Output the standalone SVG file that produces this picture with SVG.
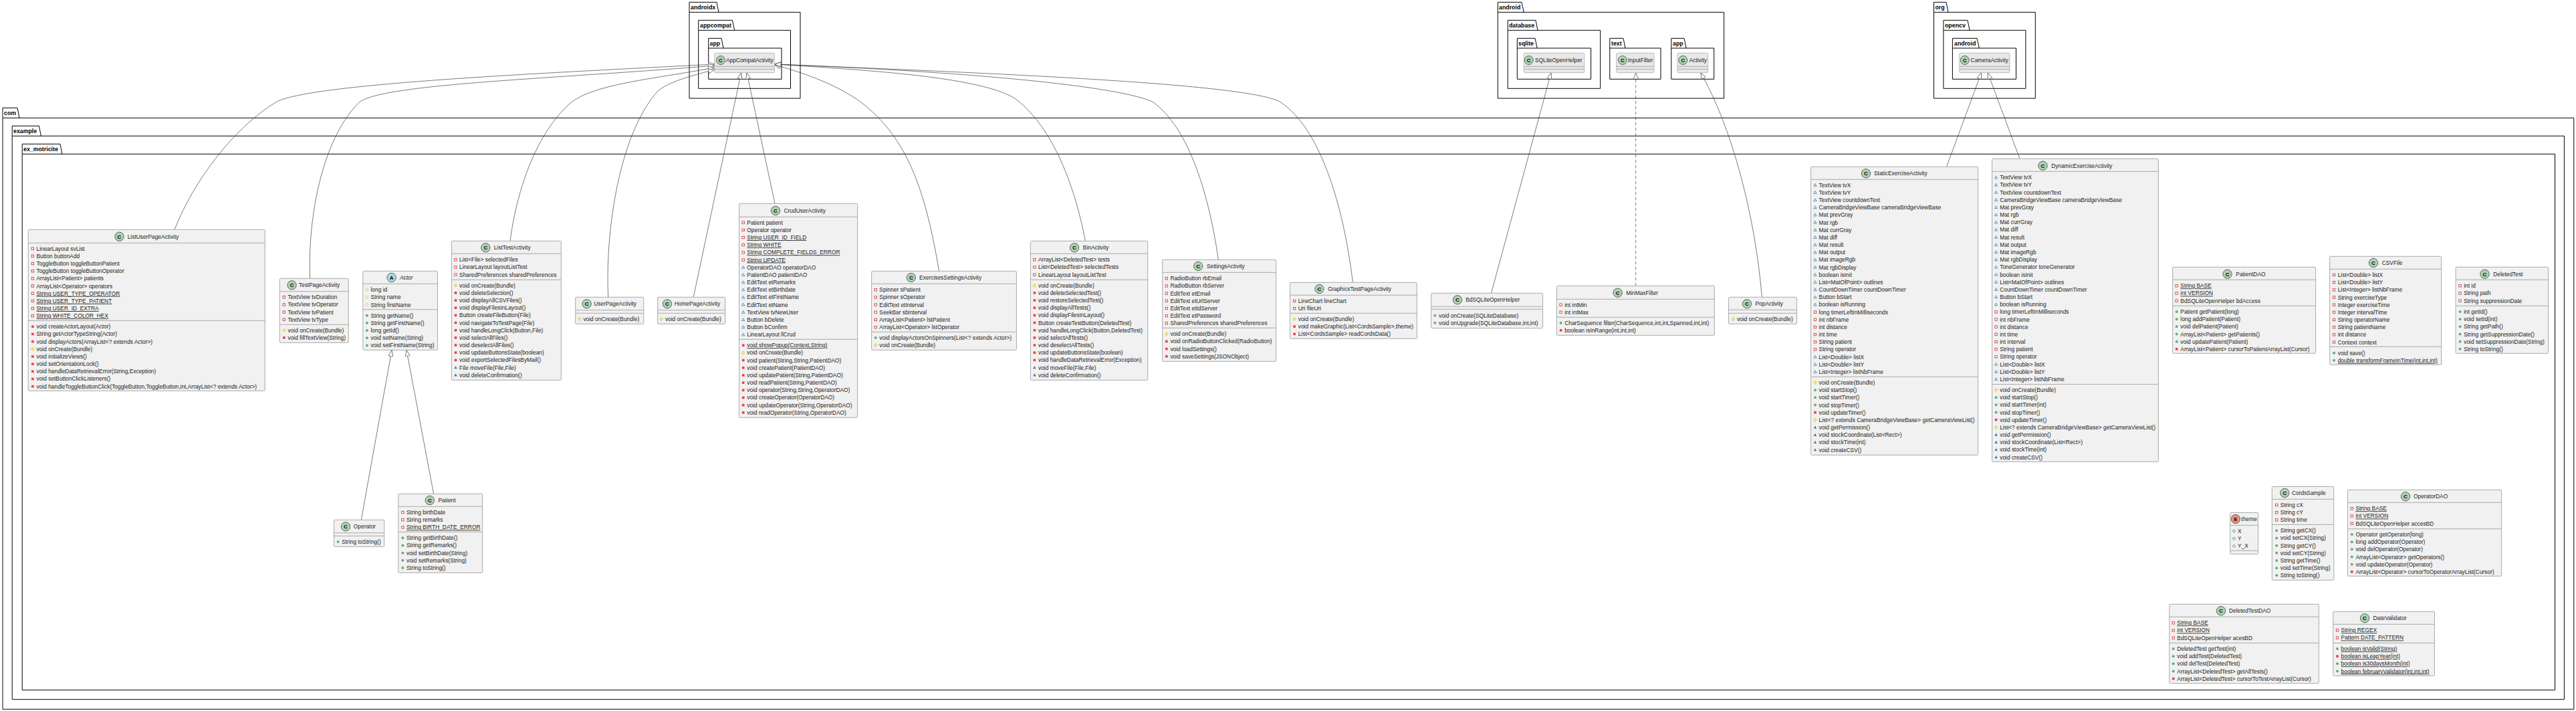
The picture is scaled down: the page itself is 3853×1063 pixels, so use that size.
<svg xmlns="http://www.w3.org/2000/svg" width="3853" height="1063" viewBox="0 0 3853 1063">
<style>
text{font-family:"Liberation Sans",Arial,sans-serif;font-size:8.4px;fill:#222}
.p{font-weight:bold;font-size:8.8px;fill:#000}
.k{fill:none;stroke:#000;stroke-width:1}
.b{fill:#F1F1F1;stroke:#ABABAB;stroke-width:1}
.e{fill:#E8E8E8;stroke:#BBB;stroke-width:1}
.s{fill:none;stroke:#ABABAB;stroke-width:1}
.c{fill:#ADD1B2;stroke:#333;stroke-width:.7}
.ca{fill:#A9DCDF;stroke:#333;stroke-width:.7}
.ce{fill:#EB937F;stroke:#333;stroke-width:.7}
.i{font-weight:bold;font-size:8px;text-anchor:middle;fill:#000}
.u{text-decoration:underline}
.it{font-style:italic}
#connectors path{fill:none;stroke:#333;stroke-width:.65;marker-end:url(#ext)}
#connectors .d{stroke-dasharray:4.5 3.5}
</style>
<defs>
<marker id="ext" markerUnits="userSpaceOnUse" markerWidth="11" markerHeight="9" refX="9.7" refY="4" orient="auto"><path d="M.2,.5 L9.7,4 L.2,7.5 Z" fill="#fff" stroke="#333" stroke-width=".65"/></marker>
<rect id="v" x="-7.3" y="-4.7" width="3.4" height="3.4" fill="#fff" stroke="#C82930" stroke-width=".8"/>
<rect id="vm" x="-7.4" y="-4.8" width="3.6" height="3.6" fill="#EE3F50"/>
<path id="a" d="M-5.6,-5.2 L-3.6,-1.4 L-7.6,-1.4 Z" fill="#fff" stroke="#1963A0" stroke-width=".7"/>
<path id="am" d="M-5.6,-5.4 L-3.4,-1.3 L-7.8,-1.3 Z" fill="#3E75AE"/>
<circle id="g" cx="-5.6" cy="-3" r="1.8" fill="#fff" stroke="#038048" stroke-width=".7"/>
<circle id="gm" cx="-5.6" cy="-3" r="2" fill="#5FAF80"/>
<path id="o" d="M-5.6,-5.4 L-3.6,-3 L-5.6,-.6 L-7.6,-3 Z" fill="#fff" stroke="#C9A13A" stroke-width=".7"/>
<path id="om" d="M-5.6,-5.6 L-3.4,-3 L-5.6,-.4 L-7.8,-3 Z" fill="#FFF04A" stroke="#B8A030" stroke-width=".5"/>
</defs>

<g id="packages">
<path class="k" d="M1031,18.3 V3.3 H1072 L1075,18.3 M1031,18.3 H1197 V147 H1031 Z"/><text class="p" x="1033" y="14">androidx</text>
<path class="k" d="M1044.7,45.3 V30.3 H1095.5 L1098.7,45.3 M1044.7,45.3 H1182.5 V132.3 H1044.7 Z"/><text class="p" x="1047" y="41">appcompat</text>
<path class="k" d="M1059.7,72 V57.3 H1079 L1082,72 M1059.7,72 H1169 V118.3 H1059.7 Z"/><text class="p" x="1061.5" y="68">app</text>
<path class="k" d="M2240.3,18.3 V3.3 H2276 L2279.3,18.3 M2240.3,18.3 H2578.6 V147 H2240.3 Z"/><text class="p" x="2242" y="14">android</text>
<path class="k" d="M2255.2,45.3 V30.3 H2297 L2300,45.3 M2255.2,45.3 H2393.7 V132.3 H2255.2 Z"/><text class="p" x="2257" y="41">database</text>
<path class="k" d="M2269.3,72 V57.3 H2296 L2299.2,72 M2269.3,72 H2379.6 V118.3 H2269.3 Z"/><text class="p" x="2271" y="68">sqlite</text>
<path class="k" d="M2407.8,72 V57.3 H2428 L2431,72 M2407.8,72 H2484 V118.3 H2407.8 Z"/><text class="p" x="2410" y="68">text</text>
<path class="k" d="M2499.8,72 V57.3 H2519 L2522.2,72 M2499.8,72 H2563.7 V118.3 H2499.8 Z"/><text class="p" x="2502" y="68">app</text>
<path class="k" d="M2892.5,18.3 V3.3 H2911 L2914,18.3 M2892.5,18.3 H3044.3 V147 H2892.5 Z"/><text class="p" x="2894.5" y="14">org</text>
<path class="k" d="M2906.9,45.3 V30.3 H2943 L2946,45.3 M2906.9,45.3 H3029.9 V132.3 H2906.9 Z"/><text class="p" x="2909" y="41">opencv</text>
<path class="k" d="M2920.4,72 V57.3 H2957 L2960.4,72 M2920.4,72 H3015.5 V118.3 H2920.4 Z"/><text class="p" x="2923" y="68">android</text>
<path class="k" d="M4,176.3 V161.3 H26 L29,176.3 M4,176.3 H3849.8 V1060.3 H4 Z"/><text class="p" x="6" y="172">com</text>
<path class="k" d="M18.2,203.3 V188.3 H58.4 L61.4,203.3 M18.2,203.3 H3835.4 V1045.7 H18.2 Z"/><text class="p" x="20" y="199">example</text>
<path class="k" d="M33.2,230.3 V215.3 H90 L92.9,230.3 M33.2,230.3 H3821.5 V1031.7 H33.2 Z"/><text class="p" x="35" y="226">ex_motricite</text>
</g>

<g id="connectors">
<path d="M261,343.3 C290,270 350,190 414.6,151.7 C470,125 800,110 1068.8,96"/>
<path d="M463.7,416.3 C460,330 480,210 537,153.3 C570,125 830,118 1068.8,98"/>
<path d="M763,360.3 C772,290 800,200 854,153.3 C890,125 980,118 1068.8,101"/>
<path d="M909.7,444.3 C905,350 925,200 985,135 C1005,120 1040,112 1068.8,104"/>
<path d="M1037.2,444.3 L1108.6,108.7"/>
<path d="M1159,304.3 L1117,108.7"/>
<path d="M1404.6,405.3 C1385,290 1360,215 1300,163 C1270,135 1215,112 1158.4,97"/>
<path d="M1623.4,360.3 C1610,290 1580,195 1519.7,148.3 C1470,115 1300,105 1158.4,96"/>
<path d="M1822.3,388.3 C1810,300 1780,190 1723,151.7 C1660,125 1400,105 1158.4,96"/>
<path d="M2023.4,422.3 C2010,310 1975,190 1913.6,151.7 C1860,125 1500,110 1158.4,96"/>
<path d="M2230.5,438.3 L2320,108.7"/>
<path class="d" d="M2446.7,427.3 L2446.7,108.7"/>
<path d="M2635.4,444.3 C2625,320 2590,190 2543.8,108.7"/>
<path d="M2911.6,249.3 L2963.6,108.7"/>
<path d="M3021,237.3 L2973.2,108.7"/>
<path d="M540.3,777.3 L586,523.3"/>
<path d="M648.6,738.3 L608,523.3"/>
</g>

<g id="AppCompatActivity"><rect class="e" x="1068.8" y="79.3" width="89.6" height="29.4" rx="1.5"/><path class="s" d="M1068.8,99.3 H1158.4 M1068.8,103.3 H1158.4"/><circle class="c" cx="1078" cy="90" r="6.5"/><text class="i" x="1078" y="93">C</text><text x="1086" y="92.8">AppCompatActivity</text></g>
<g id="SQLiteOpenHelper"><rect class="e" x="2279.3" y="79.3" width="90.4" height="29.4" rx="1.5"/><path class="s" d="M2279.3,99.3 H2369.7 M2279.3,103.3 H2369.7"/><circle class="c" cx="2286.7" cy="90" r="6.5"/><text class="i" x="2286.7" y="93">C</text><text x="2295.9" y="92.8">SQLiteOpenHelper</text></g>
<g id="InputFilter"><rect class="e" x="2417.8" y="79.3" width="56.2" height="29.4" rx="1.5"/><path class="s" d="M2417.8,99.3 H2474 M2417.8,103.3 H2474"/><circle class="c" cx="2426.9" cy="90" r="6.5"/><text class="i" x="2426.9" y="93">C</text><text x="2435" y="92.8">InputFilter</text></g>
<g id="Activity"><rect class="e" x="2509" y="79.3" width="45.6" height="29.4" rx="1.5"/><path class="s" d="M2509,99.3 H2554.6 M2509,103.3 H2554.6"/><circle class="c" cx="2517.3" cy="90" r="6.5"/><text class="i" x="2517.3" y="93">C</text><text x="2526.4" y="92.8">Activity</text></g>
<g id="CameraActivity"><rect class="e" x="2930.8" y="79.3" width="75.2" height="29.4" rx="1.5"/><path class="s" d="M2930.8,99.3 H3006 M2930.8,103.3 H3006"/><circle class="c" cx="2938.8" cy="90" r="6.5"/><text class="i" x="2938.8" y="93">C</text><text x="2947.6" y="92.8">CameraActivity</text></g>

<g id="ListUserPageActivity"><rect class="b" x="42.2" y="343.3" width="354.1" height="241" rx="1.5"/><path class="s" d="M42.2,363.3 H396.3 M42.2,479.3 H396.3"/><circle class="c" cx="178.5" cy="353.7" r="6.7"/><text class="i" x="178.5" y="356.7">C</text><text x="190.7" y="356.7">ListUserPageActivity</text>
<g transform="translate(54.5,374.7)">
<use href="#v"/><text>LinearLayout svList</text>
<use href="#v" y="11.17"/><text y="11.17">Button buttonAdd</text>
<use href="#v" y="22.34"/><text y="22.34">ToggleButton toggleButtonPatient</text>
<use href="#v" y="33.51"/><text y="33.51">ToggleButton toggleButtonOperator</text>
<use href="#v" y="44.68"/><text y="44.68">ArrayList&lt;Patient&gt; patients</text>
<use href="#v" y="55.85"/><text y="55.85">ArrayList&lt;Operator&gt; operators</text>
<use href="#v" y="67.02"/><text class="u" y="67.02">String USER_TYPE_OPERATOR</text>
<use href="#v" y="78.19"/><text class="u" y="78.19">String USER_TYPE_PATIENT</text>
<use href="#v" y="89.36"/><text class="u" y="89.36">String USER_ID_EXTRA</text>
<use href="#v" y="100.53"/><text class="u" y="100.53">String WHITE_COLOR_HEX</text>
</g><g transform="translate(54.5,491.3)">
<use href="#vm"/><text>void createActorLayout(Actor)</text>
<use href="#vm" y="11.17"/><text y="11.17">String getActorTypeString(Actor)</text>
<use href="#vm" y="22.34"/><text y="22.34">void displayActors(ArrayList&lt;? extends Actor&gt;)</text>
<use href="#om" y="33.51"/><text y="33.51">void onCreate(Bundle)</text>
<use href="#vm" y="44.68"/><text y="44.68">void initializeViews()</text>
<use href="#vm" y="55.85"/><text y="55.85">void setOrientationLock()</text>
<use href="#vm" y="67.02"/><text y="67.02">void handleDataRetrievalError(String,Exception)</text>
<use href="#vm" y="78.19"/><text y="78.19">void setButtonClickListeners()</text>
<use href="#vm" y="89.36"/><text y="89.36">void handleToggleButtonClick(ToggleButton,ToggleButton,int,ArrayList&lt;? extends Actor&gt;)</text>
</g></g>

<g id="TestPageActivity"><rect class="b" x="418.3" y="416.3" width="103" height="96" rx="1.5"/><path class="s" d="M418.3,435.7 H521.3 M418.3,485.3 H521.3"/><circle class="c" cx="436.6" cy="426.3" r="6.7"/><text class="i" x="436.6" y="429.3">C</text><text x="446.8" y="429.3">TestPageActivity</text>
<g transform="translate(430.5,447.3)">
<use href="#v"/><text>TextView tvDuration</text>
<use href="#v" y="11.17"/><text y="11.17">TextView tvOperator</text>
<use href="#v" y="22.34"/><text y="22.34">TextView tvPatient</text>
<use href="#v" y="33.51"/><text y="33.51">TextView tvType</text>
</g><g transform="translate(430.5,496.7)">
<use href="#om"/><text>void onCreate(Bundle)</text>
<use href="#vm" y="11.17"/><text y="11.17">void fillTextView(String)</text>
</g></g>

<g id="Actor"><rect class="b" x="542.8" y="405.3" width="111.7" height="118" rx="1.5"/><path class="s" d="M542.8,424.3 H654.5 M542.8,462.7 H654.5"/><circle class="ca" cx="585.6" cy="415" r="6.7"/><text class="i" x="585.6" y="418">A</text><text class="it" x="597.9" y="418">Actor</text>
<g transform="translate(554.5,436.3)">
<use href="#o"/><text>long id</text>
<use href="#o" y="11.17"/><text y="11.17">String name</text>
<use href="#o" y="22.34"/><text y="22.34">String firstName</text>
</g><g transform="translate(554.5,474.7)">
<use href="#gm"/><text>String getName()</text>
<use href="#gm" y="11.17"/><text y="11.17">String getFirstName()</text>
<use href="#gm" y="22.34"/><text y="22.34">long getId()</text>
<use href="#gm" y="33.51"/><text y="33.51">void setName(String)</text>
<use href="#gm" y="44.68"/><text y="44.68">void setFirstName(String)</text>
</g></g>

<g id="ListTestActivity"><rect class="b" x="675.4" y="360.3" width="163.9" height="208" rx="1.5"/><path class="s" d="M675.4,379.3 H839.3 M675.4,418.3 H839.3"/><circle class="c" cx="726.4" cy="370.3" r="6.7"/><text class="i" x="726.4" y="373.3">C</text><text x="738.7" y="373.3">ListTestActivity</text>
<g transform="translate(687.1,391.3)">
<use href="#v"/><text>List&lt;File&gt; selectedFiles</text>
<use href="#v" y="11.17"/><text y="11.17">LinearLayout layoutListTest</text>
<use href="#v" y="22.34"/><text y="22.34">SharedPreferences sharedPreferences</text>
</g><g transform="translate(687.1,429.7)">
<use href="#om"/><text>void onCreate(Bundle)</text>
<use href="#vm" y="11.17"/><text y="11.17">void deleteSelection()</text>
<use href="#vm" y="22.34"/><text y="22.34">void displayAllCSVFiles()</text>
<use href="#vm" y="33.51"/><text y="33.51">void displayFilesInLayout()</text>
<use href="#vm" y="44.68"/><text y="44.68">Button createFileButton(File)</text>
<use href="#vm" y="55.85"/><text y="55.85">void navigateToTestPage(File)</text>
<use href="#vm" y="67.02"/><text y="67.02">void handleLongClick(Button,File)</text>
<use href="#vm" y="78.19"/><text y="78.19">void selectAllFiles()</text>
<use href="#vm" y="89.36"/><text y="89.36">void deselectAllFiles()</text>
<use href="#vm" y="100.53"/><text y="100.53">void updateButtonsState(boolean)</text>
<use href="#vm" y="111.7"/><text y="111.7">void exportSelectedFilesByMail()</text>
<use href="#am" y="122.87"/><text y="122.87">File moveFile(File,File)</text>
<use href="#am" y="134.04"/><text y="134.04">void deleteConfirmation()</text>
</g></g>

<g id="UserPageActivity"><rect class="b" x="860.7" y="444.3" width="102.1" height="40" rx="1.5"/><path class="s" d="M860.7,463.7 H962.8 M860.7,468.3 H962.8"/><circle class="c" cx="877.6" cy="454.3" r="6.7"/><text class="i" x="877.6" y="457.3">C</text><text x="888.3" y="457.3">UserPageActivity</text>
<g transform="translate(872.4,480)"><use href="#om"/><text>void onCreate(Bundle)</text></g></g>

<g id="HomePageActivity"><rect class="b" x="983.7" y="444.3" width="101" height="40" rx="1.5"/><path class="s" d="M983.7,463.7 H1084.7 M983.7,468.3 H1084.7"/><circle class="c" cx="998" cy="454.3" r="6.7"/><text class="i" x="998" y="457.3">C</text><text x="1008.7" y="457.3">HomePageActivity</text>
<g transform="translate(994.9,480)"><use href="#om"/><text>void onCreate(Bundle)</text></g></g>

<g id="CrudUserActivity"><rect class="b" x="1105.6" y="304.3" width="177.1" height="320" rx="1.5"/><path class="s" d="M1105.6,324.3 H1282.7 M1105.6,507.3 H1282.7"/><circle class="c" cx="1160" cy="315" r="6.7"/><text class="i" x="1160" y="318">C</text><text x="1172.5" y="318">CrudUserActivity</text>
<g transform="translate(1117.3,335.7)">
<use href="#v"/><text>Patient patient</text>
<use href="#v" y="11.17"/><text y="11.17">Operator operator</text>
<use href="#v" y="22.34"/><text class="u" y="22.34">String USER_ID_FIELD</text>
<use href="#v" y="33.51"/><text class="u" y="33.51">String WHITE</text>
<use href="#v" y="44.68"/><text class="u" y="44.68">String COMPLETE_FIELDS_ERROR</text>
<use href="#v" y="55.85"/><text class="u" y="55.85">String UPDATE</text>
<use href="#a" y="67.02"/><text y="67.02">OperatorDAO operatorDAO</text>
<use href="#a" y="78.19"/><text y="78.19">PatientDAO patientDAO</text>
<use href="#a" y="89.36"/><text y="89.36">EditText etRemarks</text>
<use href="#a" y="100.53"/><text y="100.53">EditText etBirthdate</text>
<use href="#a" y="111.7"/><text y="111.7">EditText etFirstName</text>
<use href="#a" y="122.87"/><text y="122.87">EditText etName</text>
<use href="#a" y="134.04"/><text y="134.04">TextView tvNewUser</text>
<use href="#a" y="145.21"/><text y="145.21">Button bDelete</text>
<use href="#a" y="156.38"/><text y="156.38">Button bConfirm</text>
<use href="#a" y="167.55"/><text y="167.55">LinearLayout llCrud</text>
</g><g transform="translate(1117.3,519.3)">
<use href="#vm"/><text class="u">void showPopup(Context,String)</text>
<use href="#om" y="11.17"/><text y="11.17">void onCreate(Bundle)</text>
<use href="#vm" y="22.34"/><text y="22.34">void patient(String,String,PatientDAO)</text>
<use href="#vm" y="33.51"/><text y="33.51">void createPatient(PatientDAO)</text>
<use href="#vm" y="44.68"/><text y="44.68">void updatePatient(String,PatientDAO)</text>
<use href="#vm" y="55.85"/><text y="55.85">void readPatient(String,PatientDAO)</text>
<use href="#vm" y="67.02"/><text y="67.02">void operator(String,String,OperatorDAO)</text>
<use href="#vm" y="78.19"/><text y="78.19">void createOperator(OperatorDAO)</text>
<use href="#vm" y="89.36"/><text y="89.36">void updateOperator(String,OperatorDAO)</text>
<use href="#vm" y="100.53"/><text y="100.53">void readOperator(String,OperatorDAO)</text>
</g></g>

<g id="ExercisesSettingsActivity"><rect class="b" x="1303.6" y="405.3" width="216.8" height="118" rx="1.5"/><path class="s" d="M1303.6,424.3 H1520.4 M1303.6,496.3 H1520.4"/><circle class="c" cx="1362.8" cy="415" r="6.7"/><text class="i" x="1362.8" y="418">C</text><text x="1375" y="418">ExercisesSettingsActivity</text>
<g transform="translate(1315.3,436.3)">
<use href="#v"/><text>Spinner sPatient</text>
<use href="#v" y="11.17"/><text y="11.17">Spinner sOperator</text>
<use href="#v" y="22.34"/><text y="22.34">EditText etInterval</text>
<use href="#v" y="33.51"/><text y="33.51">SeekBar sbInterval</text>
<use href="#v" y="44.68"/><text y="44.68">ArrayList&lt;Patient&gt; lstPatient</text>
<use href="#v" y="55.85"/><text y="55.85">ArrayList&lt;Operator&gt; lstOperator</text>
</g><g transform="translate(1315.3,508)">
<use href="#gm"/><text>void displayActorsOnSpinners(List&lt;? extends Actor&gt;)</text>
<use href="#om" y="11.17"/><text y="11.17">void onCreate(Bundle)</text>
</g></g>

<g id="BinActivity"><rect class="b" x="1541.3" y="360.3" width="175.4" height="208" rx="1.5"/><path class="s" d="M1541.3,379.3 H1716.7 M1541.3,418.3 H1716.7"/><circle class="c" cx="1607" cy="370.3" r="6.7"/><text class="i" x="1607" y="373.3">C</text><text x="1619.8" y="373.3">BinActivity</text>
<g transform="translate(1553,391.3)">
<use href="#v"/><text>ArrayList&lt;DeletedTest&gt; tests</text>
<use href="#v" y="11.17"/><text y="11.17">List&lt;DeletedTest&gt; selectedTests</text>
<use href="#v" y="22.34"/><text y="22.34">LinearLayout layoutListTest</text>
</g><g transform="translate(1553,429.7)">
<use href="#om"/><text>void onCreate(Bundle)</text>
<use href="#vm" y="11.17"/><text y="11.17">void deleteSelectedTest()</text>
<use href="#vm" y="22.34"/><text y="22.34">void restoreSelectedTest()</text>
<use href="#vm" y="33.51"/><text y="33.51">void displayAllTests()</text>
<use href="#vm" y="44.68"/><text y="44.68">void displayFilesInLayout()</text>
<use href="#vm" y="55.85"/><text y="55.85">Button createTestButton(DeletedTest)</text>
<use href="#vm" y="67.02"/><text y="67.02">void handleLongClick(Button,DeletedTest)</text>
<use href="#vm" y="78.19"/><text y="78.19">void selectAllTests()</text>
<use href="#vm" y="89.36"/><text y="89.36">void deselectAllTests()</text>
<use href="#vm" y="100.53"/><text y="100.53">void updateButtonsState(boolean)</text>
<use href="#vm" y="111.7"/><text y="111.7">void handleDataRetrievalError(Exception)</text>
<use href="#am" y="122.87"/><text y="122.87">void moveFile(File,File)</text>
<use href="#am" y="134.04"/><text y="134.04">void deleteConfirmation()</text>
</g></g>

<g id="SettingsActivity"><rect class="b" x="1738.7" y="388.3" width="169.9" height="152" rx="1.5"/><path class="s" d="M1738.7,407.3 H1908.6 M1738.7,490.3 H1908.6"/><circle class="c" cx="1792.2" cy="398" r="6.7"/><text class="i" x="1792.2" y="401">C</text><text x="1805" y="401">SettingsActivity</text>
<g transform="translate(1750.4,419.3)">
<use href="#v"/><text>RadioButton rbEmail</text>
<use href="#v" y="11.17"/><text y="11.17">RadioButton rbServer</text>
<use href="#v" y="22.34"/><text y="22.34">EditText etEmail</text>
<use href="#v" y="33.51"/><text y="33.51">EditText etUrlServer</text>
<use href="#v" y="44.68"/><text y="44.68">EditText etIdServer</text>
<use href="#v" y="55.85"/><text y="55.85">EditText etPassword</text>
<use href="#v" y="67.02"/><text y="67.02">SharedPreferences sharedPreferences</text>
</g><g transform="translate(1750.4,502.3)">
<use href="#om"/><text>void onCreate(Bundle)</text>
<use href="#vm" y="11.17"/><text y="11.17">void onRadioButtonClicked(RadioButton)</text>
<use href="#vm" y="22.34"/><text y="22.34">void loadSettings()</text>
<use href="#vm" y="33.51"/><text y="33.51">void saveSettings(JSONObject)</text>
</g></g>

<g id="GraphicsTestPageActivity"><rect class="b" x="1929.5" y="422.3" width="189.8" height="84" rx="1.5"/><path class="s" d="M1929.5,441.3 H2119.3 M1929.5,468.3 H2119.3"/><circle class="c" cx="1973.4" cy="432" r="6.7"/><text class="i" x="1973.4" y="435">C</text><text x="1986" y="435">GraphicsTestPageActivity</text>
<g transform="translate(1941.7,453)">
<use href="#v"/><text>LineChart lineChart</text>
<use href="#v" y="11.17"/><text y="11.17">Uri fileUri</text>
</g><g transform="translate(1941.7,480)">
<use href="#om"/><text>void onCreate(Bundle)</text>
<use href="#vm" y="11.17"/><text y="11.17">void makeGraphic(List&lt;CordsSample&gt;,theme)</text>
<use href="#vm" y="22.34"/><text y="22.34">List&lt;CordsSample&gt; readCordsData()</text>
</g></g>

<g id="BdSQLiteOpenHelper"><rect class="b" x="2140.7" y="438.3" width="166.9" height="52.4" rx="1.5"/><path class="s" d="M2140.7,458.3 H2307.6 M2140.7,462.3 H2307.6"/><circle class="c" cx="2180" cy="448.3" r="6.7"/><text class="i" x="2180" y="451.3">C</text><text x="2192.2" y="451.3">BdSQLiteOpenHelper</text>
<g transform="translate(2152,474.7)">
<use href="#gm"/><text>void onCreate(SQLiteDatabase)</text>
<use href="#gm" y="11.17"/><text y="11.17">void onUpgrade(SQLiteDatabase,int,int)</text>
</g></g>

<g id="MinMaxFilter"><rect class="b" x="2328.5" y="427.3" width="235.9" height="74" rx="1.5"/><path class="s" d="M2328.5,447.3 H2564.4 M2328.5,474.3 H2564.4"/><circle class="c" cx="2419.7" cy="437.7" r="6.7"/><text class="i" x="2419.7" y="440.7">C</text><text x="2432.2" y="440.7">MinMaxFilter</text>
<g transform="translate(2340.2,458.7)">
<use href="#v"/><text>int intMin</text>
<use href="#v" y="11.17"/><text y="11.17">int intMax</text>
</g><g transform="translate(2340.2,485.7)">
<use href="#gm"/><text>CharSequence filter(CharSequence,int,int,Spanned,int,int)</text>
<use href="#vm" y="11.17"/><text y="11.17">boolean isInRange(int,int,int)</text>
</g></g>

<g id="PopActivity"><rect class="b" x="2585.4" y="444.3" width="102.2" height="40" rx="1.5"/><path class="s" d="M2585.4,463.3 H2687.6 M2585.4,468.3 H2687.6"/><circle class="c" cx="2613" cy="454.3" r="6.7"/><text class="i" x="2613" y="457.3">C</text><text x="2625.5" y="457.3">PopActivity</text>
<g transform="translate(2597.9,480)"><use href="#om"/><text>void onCreate(Bundle)</text></g></g>

<g id="StaticExerciseActivity"><rect class="b" x="2708.6" y="249.3" width="250" height="431" rx="1.5"/><path class="s" d="M2708.6,268.3 H2958.6 M2708.6,563.3 H2958.6"/><circle class="c" cx="2791" cy="259.3" r="6.7"/><text class="i" x="2791" y="262.3">C</text><text x="2803" y="262.3">StaticExerciseActivity</text>
<g transform="translate(2720.6,279.7)">
<use href="#a"/><text>TextView tvX</text>
<use href="#a" y="11.17"/><text y="11.17">TextView tvY</text>
<use href="#a" y="22.34"/><text y="22.34">TextView countdownText</text>
<use href="#a" y="33.51"/><text y="33.51">CameraBridgeViewBase cameraBridgeViewBase</text>
<use href="#a" y="44.68"/><text y="44.68">Mat prevGray</text>
<use href="#a" y="55.85"/><text y="55.85">Mat rgb</text>
<use href="#a" y="67.02"/><text y="67.02">Mat currGray</text>
<use href="#a" y="78.19"/><text y="78.19">Mat diff</text>
<use href="#a" y="89.36"/><text y="89.36">Mat result</text>
<use href="#a" y="100.53"/><text y="100.53">Mat output</text>
<use href="#a" y="111.7"/><text y="111.7">Mat imageRgb</text>
<use href="#a" y="122.87"/><text y="122.87">Mat rgbDisplay</text>
<use href="#a" y="134.04"/><text y="134.04">boolean isInit</text>
<use href="#a" y="145.21"/><text y="145.21">List&lt;MatOfPoint&gt; outlines</text>
<use href="#a" y="156.38"/><text y="156.38">CountDownTimer countDownTimer</text>
<use href="#a" y="167.55"/><text y="167.55">Button bStart</text>
<use href="#a" y="178.72"/><text y="178.72">boolean isRunning</text>
<use href="#v" y="189.89"/><text y="189.89">long timerLeftInMilliseconds</text>
<use href="#v" y="201.06"/><text y="201.06">int nbFrame</text>
<use href="#v" y="212.23"/><text y="212.23">int distance</text>
<use href="#v" y="223.4"/><text y="223.4">int time</text>
<use href="#v" y="234.57"/><text y="234.57">String patient</text>
<use href="#v" y="245.74"/><text y="245.74">String operator</text>
<use href="#a" y="256.91"/><text y="256.91">List&lt;Double&gt; listX</text>
<use href="#a" y="268.08"/><text y="268.08">List&lt;Double&gt; listY</text>
<use href="#a" y="279.25"/><text y="279.25">List&lt;Integer&gt; listNbFrame</text>
</g><g transform="translate(2720.6,575)">
<use href="#om"/><text>void onCreate(Bundle)</text>
<use href="#gm" y="11.17"/><text y="11.17">void startStop()</text>
<use href="#gm" y="22.34"/><text y="22.34">void startTimer()</text>
<use href="#gm" y="33.51"/><text y="33.51">void stopTimer()</text>
<use href="#vm" y="44.68"/><text y="44.68">void updateTimer()</text>
<use href="#om" y="55.85"/><text y="55.85">List&lt;? extends CameraBridgeViewBase&gt; getCameraViewList()</text>
<use href="#am" y="67.02"/><text y="67.02">void getPermission()</text>
<use href="#am" y="78.19"/><text y="78.19">void stockCoordinate(List&lt;Rect&gt;)</text>
<use href="#am" y="89.36"/><text y="89.36">void stockTime(int)</text>
<use href="#am" y="100.53"/><text y="100.53">void createCSV()</text>
</g></g>

<g id="DynamicExerciseActivity"><rect class="b" x="2979.6" y="237.3" width="248.8" height="453" rx="1.5"/><path class="s" d="M2979.6,256.3 H3228.4 M2979.6,574.5 H3228.4"/><circle class="c" cx="3055.5" cy="247.7" r="6.7"/><text class="i" x="3055.5" y="250.7">C</text><text x="3068.3" y="250.7">DynamicExerciseActivity</text>
<g transform="translate(2991.2,268.3)">
<use href="#a"/><text>TextView tvX</text>
<use href="#a" y="11.17"/><text y="11.17">TextView tvY</text>
<use href="#a" y="22.34"/><text y="22.34">TextView countdownText</text>
<use href="#a" y="33.51"/><text y="33.51">CameraBridgeViewBase cameraBridgeViewBase</text>
<use href="#a" y="44.68"/><text y="44.68">Mat prevGray</text>
<use href="#a" y="55.85"/><text y="55.85">Mat rgb</text>
<use href="#a" y="67.02"/><text y="67.02">Mat currGray</text>
<use href="#a" y="78.19"/><text y="78.19">Mat diff</text>
<use href="#a" y="89.36"/><text y="89.36">Mat result</text>
<use href="#a" y="100.53"/><text y="100.53">Mat output</text>
<use href="#a" y="111.7"/><text y="111.7">Mat imageRgb</text>
<use href="#a" y="122.87"/><text y="122.87">Mat rgbDisplay</text>
<use href="#a" y="134.04"/><text y="134.04">ToneGenerator toneGenerator</text>
<use href="#a" y="145.21"/><text y="145.21">boolean isInit</text>
<use href="#a" y="156.38"/><text y="156.38">List&lt;MatOfPoint&gt; outlines</text>
<use href="#a" y="167.55"/><text y="167.55">CountDownTimer countDownTimer</text>
<use href="#a" y="178.72"/><text y="178.72">Button bStart</text>
<use href="#a" y="189.89"/><text y="189.89">boolean isRunning</text>
<use href="#v" y="201.06"/><text y="201.06">long timerLeftInMilliseconds</text>
<use href="#v" y="212.23"/><text y="212.23">int nbFrame</text>
<use href="#v" y="223.4"/><text y="223.4">int distance</text>
<use href="#v" y="234.57"/><text y="234.57">int time</text>
<use href="#v" y="245.74"/><text y="245.74">int interval</text>
<use href="#v" y="256.91"/><text y="256.91">String patient</text>
<use href="#v" y="268.08"/><text y="268.08">String operator</text>
<use href="#a" y="279.25"/><text y="279.25">List&lt;Double&gt; listX</text>
<use href="#a" y="290.42"/><text y="290.42">List&lt;Double&gt; listY</text>
<use href="#a" y="301.59"/><text y="301.59">List&lt;Integer&gt; listNbFrame</text>
</g><g transform="translate(2991.2,586)">
<use href="#om"/><text>void onCreate(Bundle)</text>
<use href="#gm" y="11.17"/><text y="11.17">void startStop()</text>
<use href="#gm" y="22.34"/><text y="22.34">void startTimer(int)</text>
<use href="#gm" y="33.51"/><text y="33.51">void stopTimer()</text>
<use href="#vm" y="44.68"/><text y="44.68">void updateTimer()</text>
<use href="#om" y="55.85"/><text y="55.85">List&lt;? extends CameraBridgeViewBase&gt; getCameraViewList()</text>
<use href="#am" y="67.02"/><text y="67.02">void getPermission()</text>
<use href="#am" y="78.19"/><text y="78.19">void stockCoordinate(List&lt;Rect&gt;)</text>
<use href="#am" y="89.36"/><text y="89.36">void stockTime(int)</text>
<use href="#am" y="100.53"/><text y="100.53">void createCSV()</text>
</g></g>

<g id="PatientDAO"><rect class="b" x="3249.7" y="399.3" width="213.9" height="129" rx="1.5"/><path class="s" d="M3249.7,418.3 H3463.6 M3249.7,457.3 H3463.6"/><circle class="c" cx="3331.6" cy="409.7" r="6.7"/><text class="i" x="3331.6" y="412.7">C</text><text x="3344.3" y="412.7">PatientDAO</text>
<g transform="translate(3261.3,430.3)">
<use href="#v"/><text class="u">String BASE</text>
<use href="#v" y="11.17"/><text class="u" y="11.17">int VERSION</text>
<use href="#v" y="22.34"/><text y="22.34">BdSQLiteOpenHelper bdAccess</text>
</g><g transform="translate(3261.3,469)">
<use href="#gm"/><text>Patient getPatient(long)</text>
<use href="#gm" y="11.17"/><text y="11.17">long addPatient(Patient)</text>
<use href="#gm" y="22.34"/><text y="22.34">void delPatient(Patient)</text>
<use href="#gm" y="33.51"/><text y="33.51">ArrayList&lt;Patient&gt; getPatients()</text>
<use href="#gm" y="44.68"/><text y="44.68">void updatePatient(Patient)</text>
<use href="#vm" y="55.85"/><text y="55.85">ArrayList&lt;Patient&gt; cursorToPatientArrayList(Cursor)</text>
</g></g>

<g id="CSVFile"><rect class="b" x="3484.7" y="383.3" width="167" height="162" rx="1.5"/><path class="s" d="M3484.7,402.3 H3651.7 M3484.7,518.3 H3651.7"/><circle class="c" cx="3550" cy="393" r="6.7"/><text class="i" x="3550" y="396">C</text><text x="3562.7" y="396">CSVFile</text>
<g transform="translate(3496.7,414)">
<use href="#v"/><text>List&lt;Double&gt; listX</text>
<use href="#v" y="11.17"/><text y="11.17">List&lt;Double&gt; listY</text>
<use href="#v" y="22.34"/><text y="22.34">List&lt;Integer&gt; listNbFrame</text>
<use href="#v" y="33.51"/><text y="33.51">String exerciseType</text>
<use href="#v" y="44.68"/><text y="44.68">Integer exerciseTime</text>
<use href="#v" y="55.85"/><text y="55.85">Integer intervalTime</text>
<use href="#v" y="67.02"/><text y="67.02">String operatorName</text>
<use href="#v" y="78.19"/><text y="78.19">String patientName</text>
<use href="#v" y="89.36"/><text y="89.36">int distance</text>
<use href="#v" y="100.53"/><text y="100.53">Context context</text>
</g><g transform="translate(3496.7,530.7)">
<use href="#gm"/><text>void save()</text>
<use href="#gm" y="11.17"/><text class="u" y="11.17">double transformFrameInTime(int,int,int)</text>
</g></g>

<g id="DeletedTest"><rect class="b" x="3673" y="399.3" width="138.6" height="129" rx="1.5"/><path class="s" d="M3673,418.3 H3811.6 M3673,457.3 H3811.6"/><circle class="c" cx="3716.5" cy="409.7" r="6.7"/><text class="i" x="3716.5" y="412.7">C</text><text x="3729.2" y="412.7">DeletedTest</text>
<g transform="translate(3685.2,430.3)">
<use href="#v"/><text>int id</text>
<use href="#v" y="11.17"/><text y="11.17">String path</text>
<use href="#v" y="22.34"/><text y="22.34">String suppressionDate</text>
</g><g transform="translate(3685.2,469)">
<use href="#gm"/><text>int getId()</text>
<use href="#gm" y="11.17"/><text y="11.17">void setId(int)</text>
<use href="#gm" y="22.34"/><text y="22.34">String getPath()</text>
<use href="#gm" y="33.51"/><text y="33.51">String getSuppressionDate()</text>
<use href="#gm" y="44.68"/><text y="44.68">void setSuppressionDate(String)</text>
<use href="#gm" y="55.85"/><text y="55.85">String toString()</text>
</g></g>

<g id="theme"><rect class="b" x="3335.7" y="766.3" width="41.9" height="62" rx="1.5"/><path class="s" d="M3335.7,785.3 H3377.6 M3335.7,823.3 H3377.6"/><circle class="ce" cx="3343.9" cy="776" r="6.7"/><text class="i" x="3343.9" y="779">E</text><text x="3352.6" y="779">theme</text>
<g transform="translate(3347,797)">
<use href="#g"/><text>X</text>
<use href="#g" y="11.17"/><text y="11.17">Y</text>
<use href="#g" y="22.34"/><text y="22.34">Y_X</text>
</g></g>

<g id="CordsSample"><rect class="b" x="3398.3" y="727.5" width="92.5" height="139.8" rx="1.5"/><path class="s" d="M3398.3,746.3 H3490.8 M3398.3,784.3 H3490.8"/><circle class="c" cx="3417.3" cy="737" r="6.7"/><text class="i" x="3417.3" y="740">C</text><text x="3428" y="740">CordsSample</text>
<g transform="translate(3410.8,758)">
<use href="#v"/><text>String cX</text>
<use href="#v" y="11.17"/><text y="11.17">String cY</text>
<use href="#v" y="22.34"/><text y="22.34">String time</text>
</g><g transform="translate(3410.8,796.3)">
<use href="#gm"/><text>String getCX()</text>
<use href="#gm" y="11.17"/><text y="11.17">void setCX(String)</text>
<use href="#gm" y="22.34"/><text y="22.34">String getCY()</text>
<use href="#gm" y="33.51"/><text y="33.51">void setCY(String)</text>
<use href="#gm" y="44.68"/><text y="44.68">String getTime()</text>
<use href="#gm" y="55.85"/><text y="55.85">void setTime(String)</text>
<use href="#gm" y="67.02"/><text y="67.02">String toString()</text>
</g></g>

<g id="OperatorDAO"><rect class="b" x="3511.4" y="732.5" width="230.2" height="128.8" rx="1.5"/><path class="s" d="M3511.4,751.3 H3741.6 M3511.4,790.7 H3741.6"/><circle class="c" cx="3598" cy="742.3" r="6.7"/><text class="i" x="3598" y="745.3">C</text><text x="3610" y="745.3">OperatorDAO</text>
<g transform="translate(3523.4,763.3)">
<use href="#v"/><text class="u">String BASE</text>
<use href="#v" y="11.17"/><text class="u" y="11.17">int VERSION</text>
<use href="#v" y="22.34"/><text y="22.34">BdSQLiteOpenHelper accesBD</text>
</g><g transform="translate(3523.4,802)">
<use href="#gm"/><text>Operator getOperator(long)</text>
<use href="#gm" y="11.17"/><text y="11.17">long addOperator(Operator)</text>
<use href="#gm" y="22.34"/><text y="22.34">void delOperator(Operator)</text>
<use href="#gm" y="33.51"/><text y="33.51">ArrayList&lt;Operator&gt; getOperators()</text>
<use href="#gm" y="44.68"/><text y="44.68">void updateOperator(Operator)</text>
<use href="#vm" y="55.85"/><text y="55.85">ArrayList&lt;Operator&gt; cursorToOperatorArrayList(Cursor)</text>
</g></g>

<g id="DeletedTestDAO"><rect class="b" x="3244.8" y="903.3" width="223.6" height="118.4" rx="1.5"/><path class="s" d="M3244.8,922.3 H3468.4 M3244.8,961.3 H3468.4"/><circle class="c" cx="3322" cy="913.3" r="6.7"/><text class="i" x="3322" y="916.3">C</text><text x="3334" y="916.3">DeletedTestDAO</text>
<g transform="translate(3256.3,934.3)">
<use href="#v"/><text class="u">String BASE</text>
<use href="#v" y="11.17"/><text class="u" y="11.17">int VERSION</text>
<use href="#v" y="22.34"/><text y="22.34">BdSQLiteOpenHelper acesBD</text>
</g><g transform="translate(3256.3,973)">
<use href="#gm"/><text>DeletedTest getTest(int)</text>
<use href="#gm" y="11.17"/><text y="11.17">void addTest(DeletedTest)</text>
<use href="#gm" y="22.34"/><text y="22.34">void delTest(DeletedTest)</text>
<use href="#gm" y="33.51"/><text y="33.51">ArrayList&lt;DeletedTest&gt; getAllTests()</text>
<use href="#vm" y="44.68"/><text y="44.68">ArrayList&lt;DeletedTest&gt; cursorToTestArrayList(Cursor)</text>
</g></g>

<g id="DateValidator"><rect class="b" x="3489.7" y="914.3" width="151.8" height="96" rx="1.5"/><path class="s" d="M3489.7,933.3 H3641.5 M3489.7,961.3 H3641.5"/><circle class="c" cx="3537" cy="924.3" r="6.7"/><text class="i" x="3537" y="927.3">C</text><text x="3549.5" y="927.3">DateValidator</text>
<g transform="translate(3501.6,945.3)">
<use href="#v"/><text class="u">String REGEX</text>
<use href="#v" y="11.17"/><text class="u" y="11.17">Pattern DATE_PATTERN</text>
</g><g transform="translate(3501.6,973)">
<use href="#gm"/><text class="u">boolean isValid(String)</text>
<use href="#vm" y="11.17"/><text class="u" y="11.17">boolean isLeapYear(int)</text>
<use href="#gm" y="22.34"/><text class="u" y="22.34">boolean is30daysMonth(int)</text>
<use href="#gm" y="33.51"/><text class="u" y="33.51">boolean februaryValidator(int,int,int)</text>
</g></g>

<g id="Operator"><rect class="b" x="499.5" y="777.3" width="75.2" height="40" rx="1.5"/><path class="s" d="M499.5,796.7 H574.7 M499.5,801.3 H574.7"/><circle class="c" cx="517" cy="787.3" r="6.7"/><text class="i" x="517" y="790.3">C</text><text x="528.8" y="790.3">Operator</text>
<g transform="translate(511.2,813)"><use href="#gm"/><text>String toString()</text></g></g>

<g id="Patient"><rect class="b" x="595.8" y="738.3" width="125.9" height="118" rx="1.5"/><path class="s" d="M595.8,757.3 H721.7 M595.8,795.3 H721.7"/><circle class="c" cx="642.8" cy="748" r="6.7"/><text class="i" x="642.8" y="751">C</text><text x="655.5" y="751">Patient</text>
<g transform="translate(608,769)">
<use href="#v"/><text>String birthDate</text>
<use href="#v" y="11.17"/><text y="11.17">String remarks</text>
<use href="#v" y="22.34"/><text class="u" y="22.34">String BIRTH_DATE_ERROR</text>
</g><g transform="translate(608,807.3)">
<use href="#gm"/><text>String getBirthDate()</text>
<use href="#gm" y="11.17"/><text y="11.17">String getRemarks()</text>
<use href="#gm" y="22.34"/><text y="22.34">void setBirthDate(String)</text>
<use href="#gm" y="33.51"/><text y="33.51">void setRemarks(String)</text>
<use href="#gm" y="44.68"/><text y="44.68">String toString()</text>
</g></g>
</svg>
